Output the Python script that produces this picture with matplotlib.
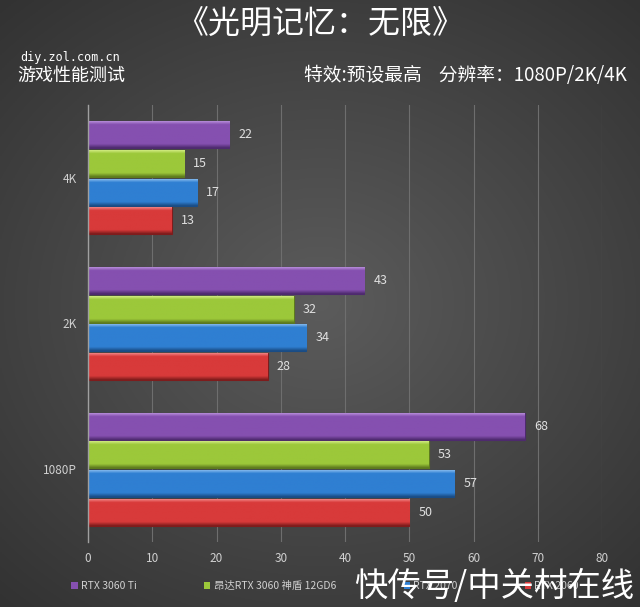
import numpy as np
import matplotlib
matplotlib.use('Agg')
import matplotlib.pyplot as plt

plt.rcParams['font.family'] = ['Noto Sans CJK SC', 'DejaVu Sans']

# data
resolutions = ['1080P', '2K', '4K']
series = ['RTX 3060 Ti', '昂达RTX 3060 神盾 12GD6', 'RTX 2070', 'RTX 2060']
fps_3060ti = [68, 43, 22]
fps_onda3060 = [53, 32, 15]
fps_2070 = [57, 34, 17]
fps_2060 = [50, 28, 13]
x_ticks = [0, 10, 20, 30, 40, 50, 60, 70, 80]

values = [fps_3060ti, fps_onda3060, fps_2070, fps_2060]
colors = ['#8550b0', '#9cc83a', '#2f7fd2', '#d83a3a']
dark = ['#4e2a6e', '#5d7a1e', '#1a4c84', '#7e1c1c']
light = ['#b58ad8', '#cfe97e', '#7fb6ec', '#f08080']

W, H = 640, 607
fig = plt.figure(figsize=(W / 100, H / 100), dpi=100)

# radial background
bg = fig.add_axes([0, 0, 1, 1], zorder=-10)
yy, xx = np.mgrid[0:1:300j, 0:1:300j]
r = np.sqrt((xx - 0.5) ** 2 + ((yy - 0.5) * 1.1) ** 2)
shade = 0.36 - 0.22 * r
bg.imshow(np.dstack([shade, shade, shade]), extent=[0, 1, 0, 1], aspect='auto')
bg.set_axis_off()

ax = fig.add_axes([88 / W, 1 - 542 / H, (602 - 88) / W, (542 - 105) / H])
ax.set_facecolor('none')

pitch = 0.197
bh = 0.185
y = np.arange(len(resolutions))
for i, vals in enumerate(values):
    offs = (1.5 - i) * pitch
    bars = ax.barh(y + offs, vals, height=bh, color=colors[i],
                   edgecolor=dark[i], linewidth=0.8, zorder=3)
    c1 = np.array(matplotlib.colors.to_rgb(light[i]))
    c2 = np.array(matplotlib.colors.to_rgb(colors[i]))
    c3 = np.array(matplotlib.colors.to_rgb(dark[i]))
    img = np.zeros((50, 1, 3))
    for k, t in enumerate(np.linspace(0, 1, 50)):
        if t < 0.12:
            img[k, 0] = c1 + (c2 - c1) * (t / 0.12)
        elif t < 0.85:
            img[k, 0] = c2
        else:
            img[k, 0] = c2 + (c3 - c2) * ((t - 0.85) / 0.15)
    for b, v in zip(bars, vals):
        x0, y0 = b.get_x(), b.get_y()
        w, h = b.get_width(), b.get_height()
        im = ax.imshow(img, extent=[x0, x0 + w, y0, y0 + h], origin='upper',
                       aspect='auto', zorder=3.5)
        im.set_clip_path(b)
        ax.text(v + 1.4, y0 + h / 2, str(v), color='#e0e0e0', fontsize=9,
                va='center', ha='left', zorder=5)

ax.set_xlim(0, 80)
ax.set_ylim(-0.5, 2.5)
ax.set_xticks(x_ticks)
ax.set_yticks(y)
ax.set_yticklabels(resolutions)
ax.tick_params(axis='both', length=0, colors='#d0d0d0', labelsize=8.5)
ax.tick_params(axis='x', pad=7)
ax.tick_params(axis='y', pad=8)
ax.grid(axis='x', color='#6e6e6e', linewidth=0.8, zorder=0)
for s in ['top', 'right', 'bottom']:
    ax.spines[s].set_visible(False)
ax.spines['left'].set_color('#a0a0a0')
ax.spines['left'].set_linewidth(1.0)
ax.spines['left'].set_zorder(6)

handles = [matplotlib.patches.Patch(facecolor=c, edgecolor='none') for c in colors]
fig.legend(handles, series, loc='center left', bbox_to_anchor=(62 / W, 1 - 586 / H),
           ncol=4, frameon=False, fontsize=7.5, labelcolor='#d0d0d0',
           handlelength=0.6, handleheight=0.6, handletextpad=0.3, columnspacing=6.5)

# titles
fig.text(0.5, 1 - 24 / H, '《光明记忆：无限》', color='white', fontsize=23,
         ha='center', va='center')
fig.text(20 / W, 1 - 57 / H, 'diy.zol.com.cn', color='white', fontsize=8.5,
         ha='left', va='center', family=['DejaVu Sans Mono'])
fig.text(17 / W, 1 - 76 / H, '游戏性能测试', color='white', fontsize=13,
         ha='left', va='center')
fig.text(627 / W, 1 - 76 / H, '特效:预设最高    分辨率：1080P/2K/4K', color='white',
         fontsize=13.5, ha='right', va='center')

# watermark
fig.text(634 / W, 1 - 587 / H, '快传号/中关村在线', color='white', fontsize=24,
         ha='right', va='center', zorder=20)

fig.savefig('out.png', dpi=100)
